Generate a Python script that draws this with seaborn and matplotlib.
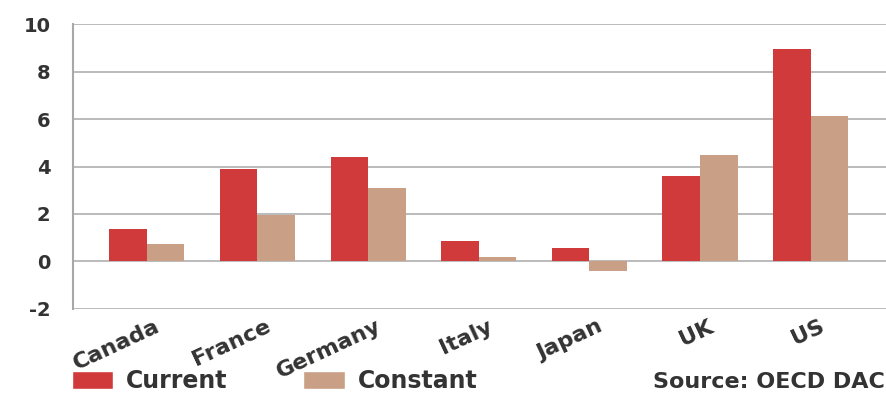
import numpy as np
import pandas as pd
import matplotlib.pyplot as plt
import seaborn as sns
from matplotlib.patches import Patch
from matplotlib.transforms import ScaledTranslation

# Data
countries = ['Canada', 'France', 'Germany', 'Italy', 'Japan', 'UK', 'US']
current = [1.35, 3.9, 4.4, 0.85, 0.55, 3.6, 8.95]
constant = [0.75, 1.95, 3.1, 0.2, -0.4, 4.5, 6.15]
series = ['Current', 'Constant']
colors = ['#d13a3b', '#c9a086']

sns.set_style("white")
plt.rcParams['font.family'] = ['DejaVu Sans']
plt.rcParams['axes.unicode_minus'] = False

df = pd.DataFrame({
    'country': countries * 2,
    'value': current + constant,
    'series': ['Current'] * len(countries) + ['Constant'] * len(countries),
})

fig = plt.figure(figsize=(8.87, 3.96), dpi=100)
ax = fig.add_axes([0.082, 0.22, 0.918, 0.719])

sns.barplot(data=df, x='country', y='value', hue='series', hue_order=series,
            palette=colors, saturation=1, width=0.68, ax=ax, legend=False,
            linewidth=0, edgecolor='none', zorder=3)

ax.set_ylim(-2, 10)
ax.set_xlim(-0.67, 6.69)
ax.set_yticks([-2, 0, 2, 4, 6, 8, 10])
ax.yaxis.grid(True, color='#a8a8a8', linewidth=1.1, zorder=0)
ax.set_axisbelow(True)
for s in ['top', 'right', 'bottom']:
    ax.spines[s].set_visible(False)
ax.spines['left'].set_color('#a8a8a8')
ax.spines['left'].set_linewidth(1.5)
ax.set_xlabel('')
ax.set_ylabel('')
ax.tick_params(axis='y', length=0, labelsize=14, labelcolor='#333333', pad=16)
ax.tick_params(axis='x', length=0, labelsize=16, labelcolor='#333333', pad=4)
for lab in ax.get_yticklabels():
    lab.set_fontweight('bold')
shift = ScaledTranslation(8 / 100, -2 / 100, fig.dpi_scale_trans)
for lab in ax.get_xticklabels():
    lab.set_fontweight('bold')
    lab.set_rotation(25)
    lab.set_ha('right')
    lab.set_rotation_mode('anchor')
    lab.set_transform(lab.get_transform() + shift)

handles = [Patch(facecolor=c, label=s) for c, s in zip(colors, series)]
fig.legend(handles=handles, loc='lower left', bbox_to_anchor=(72 / 887, 0.008), ncol=2,
           frameon=False, handlelength=1.75, handleheight=0.8, handletextpad=0.55,
           columnspacing=3.2, borderpad=0, borderaxespad=0,
           prop={'size': 17, 'weight': 'bold'}, labelcolor='#333333')
fig.text(0.998, 0.01, 'Source: OECD DAC', ha='right', va='bottom', fontsize=16,
         fontweight='bold', color='#333333')

plt.savefig('out.png', dpi=100)
